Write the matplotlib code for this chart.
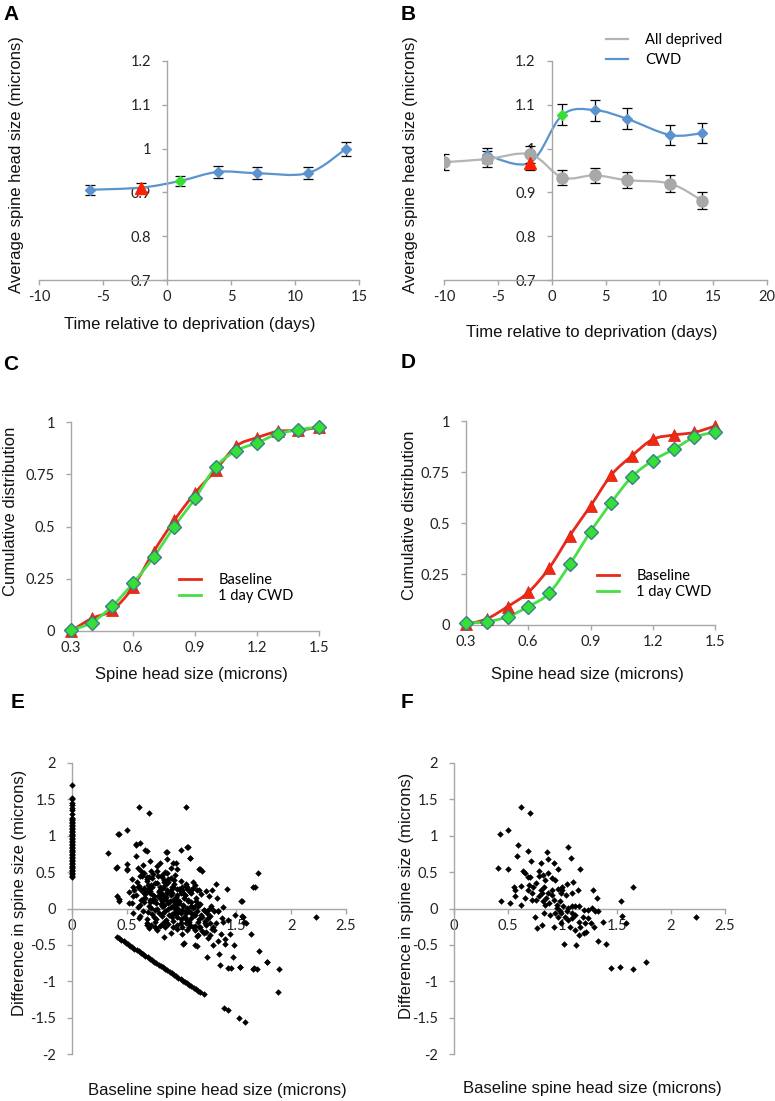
import matplotlib.pyplot as plt
import numpy as np
from matplotlib.path import Path
from matplotlib.patches import PathPatch
from matplotlib.lines import Line2D

plt.rcParams['font.family'] = ['Lato', 'DejaVu Sans']
plt.rcParams['axes.unicode_minus'] = False

# ---- panel A: CWD spines over time
a_days = [-6, -2, 1, 4, 7, 11, 14]
a_size = [0.906, 0.911, 0.926, 0.947, 0.944, 0.944, 1.0]
a_err = [0.011, 0.010, 0.012, 0.013, 0.013, 0.013, 0.016]

# ---- panel B
b_all_days = [-10, -6, -2, 1, 4, 7, 11, 14]
b_all_size = [0.969, 0.976, 0.987, 0.934, 0.939, 0.928, 0.920, 0.881]
b_all_err = [0.019, 0.018, 0.019, 0.017, 0.017, 0.019, 0.020, 0.020]
b_cwd_days = [-6, -2, 1, 4, 7, 11, 14]
b_cwd_size = [0.985, 0.968, 1.077, 1.088, 1.068, 1.031, 1.035]
b_cwd_err = [0.017, 0.017, 0.024, 0.024, 0.024, 0.023, 0.023]

# ---- panels C, D: cumulative distributions
bins = [0.3, 0.4, 0.5, 0.6, 0.7, 0.8, 0.9, 1.0, 1.1, 1.2, 1.3, 1.4, 1.5]
c_base = [0.0, 0.06, 0.10, 0.21, 0.38, 0.53, 0.66, 0.77, 0.885, 0.925, 0.955, 0.96, 0.975]
c_cwd = [0.005, 0.04, 0.12, 0.228, 0.354, 0.50, 0.634, 0.785, 0.863, 0.90, 0.943, 0.963, 0.976]
d_base = [0.003, 0.03, 0.09, 0.16, 0.278, 0.438, 0.583, 0.735, 0.83, 0.91, 0.931, 0.944, 0.975]
d_cwd = [0.008, 0.016, 0.04, 0.09, 0.155, 0.297, 0.457, 0.60, 0.727, 0.806, 0.861, 0.92, 0.946]

# ---- panel F: CWD spines (baseline size, change)
f_x = [0.615, 0.704, 0.42, 0.50, 0.587, 0.683, 0.584, 0.861, 1.05, 1.076, 0.406, 0.498, 0.713, 0.80,
       0.864, 0.92, 1.16, 0.956, 0.633, 0.655, 0.68, 0.70, 0.78, 0.82, 0.84, 0.90, 0.93, 0.556, 0.566,
       0.615, 0.69, 0.76, 0.80, 0.83, 0.87, 0.90, 0.96, 0.99, 1.00, 1.03, 1.10, 1.14, 1.28, 1.32, 1.65,
       1.54, 0.43, 0.52, 0.62, 0.56, 0.655, 0.716, 0.76, 0.785, 0.82, 0.85, 0.88, 0.92, 0.95, 0.98,
       1.01, 1.05, 1.09, 1.12, 1.15, 1.20, 1.24, 1.27, 1.30, 1.33, 0.75, 0.83, 0.885, 0.93, 0.96, 0.99,
       1.02, 1.05, 1.09, 1.12, 1.15, 1.19, 1.21, 1.24, 0.766, 0.81, 0.92, 0.99, 1.07, 1.12, 1.15, 1.20,
       1.22, 1.29, 1.378, 1.33, 1.40, 1.015, 1.125, 1.55, 1.59, 2.23, 1.45, 1.53, 1.65, 1.775, 0.81,
       0.90, 0.84, 0.95, 0.98, 1.04, 1.085, 1.16, 1.26, 0.716, 0.686, 0.73, 0.785, 0.864, 1.0, 1.04,
       1.085]
f_y = [1.40, 1.31, 1.02, 1.08, 0.87, 0.79, 0.72, 0.775, 0.84, 0.70, 0.56, 0.54, 0.65, 0.62,
       0.68, 0.63, 0.54, 0.54, 0.52, 0.49, 0.43, 0.43, 0.51, 0.46, 0.395, 0.42, 0.39, 0.30, 0.26,
       0.31, 0.32, 0.35, 0.26, 0.30, 0.21, 0.26, 0.27, 0.21, 0.26, 0.19, 0.36, 0.26, 0.26, 0.14, 0.29,
       0.10, 0.10, 0.07, 0.05, 0.165, 0.14, 0.21, 0.12, 0.165, 0.10, 0.14, 0.07, 0.12, 0.05, 0.10,
       0.03, 0.005, 0.04, 0.03, 0.03, -0.02, -0.02, 0.005, -0.04, -0.04, -0.11, -0.06, -0.09, -0.06, -0.11, -0.06,
       -0.11, -0.16, -0.13, -0.09, -0.18, -0.11, -0.20, -0.13, -0.27, -0.22, -0.25, -0.20, -0.25, -0.29, -0.36, -0.34,
       -0.32, -0.25, -0.18, -0.44, -0.49, -0.49, -0.50, -0.10, -0.20, -0.11, -0.82, -0.80, -0.83, -0.73, 0.21,
       0.19, 0.05, 0.005, -0.04, -0.04, -0.06, -0.25, -0.20, 0.12, 0.26, 0.30, 0.44, 0.49, 0.30, 0.33,
       0.21]

# ---- panel E: the other deprived spines (plus the CWD ones above)
e_x = [1.04, 0.43, 0.325, 0.58, 0.62, 0.67, 0.87, 0.99, 1.06, 1.08, 0.41, 0.50, 0.50, 1.17, 1.19,
       1.31, 1.41, 1.70, 1.67, 1.55, 0.41, 0.43, 1.49, 1.56, 1.57, 1.63, 1.445, 1.48, 1.47, 1.42, 1.35,
       1.535, 1.66, 1.69, 1.71, 1.78, 1.89, 1.88, 1.34, 1.29, 1.23, 1.14, 1.02, 0.84, 0.76, 0.68, 0.56,
       0.61, 1.26,
       0.55, 0.59, 0.64, 0.68, 0.73, 0.78, 0.84, 0.88, 0.93, 0.99, 1.05, 1.12,
       0.52, 0.58, 0.63, 0.67, 0.71, 0.75, 0.79, 0.83, 0.87, 0.91, 0.95, 0.99, 1.03, 1.08, 1.13, 1.18, 1.25,
       0.55, 0.60, 0.66, 0.70, 0.74, 0.78, 0.81, 0.86, 0.90, 0.94, 0.97, 1.01, 1.06, 1.10, 1.15, 1.20,
       1.27, 1.33, 1.38,
       0.62, 0.68, 0.73, 0.77, 0.82, 0.86, 0.91, 0.95, 0.99, 1.03, 1.07, 1.11, 1.16, 1.21, 1.26, 1.31,
       1.37, 1.42,
       0.70, 0.78, 0.85, 0.90, 0.96, 1.00, 1.05, 1.10, 1.14, 1.19, 1.24, 1.30, 1.36, 1.40,
       0.60, 0.66, 0.72, 0.80, 0.86, 0.92, 0.98, 1.04, 1.10, 1.16, 1.22,
       0.60, 0.65, 0.72, 0.78, 0.85, 0.90, 0.95,
       0.63, 0.67, 0.71, 0.74, 0.77, 0.80, 0.83, 0.86, 0.89, 0.92, 0.95, 0.98, 1.02, 1.06, 1.09, 1.13, 1.17,
       0.65, 0.69, 0.72, 0.76, 0.79, 0.82, 0.85, 0.88, 0.91, 0.94, 0.97, 1.00, 1.04, 1.07, 1.11, 1.14,
       1.18, 1.23,
       0.68, 0.72, 0.76, 0.80, 0.84, 0.88, 0.92, 0.96, 1.00, 1.04, 1.08, 1.12, 1.17, 1.22, 1.28,
       0.66, 0.70, 0.74, 0.79, 0.83, 0.87, 0.91, 0.96, 1.00, 1.05, 1.09,
       0.62, 0.68, 0.74, 0.82, 0.88, 0.94]
e_y = [1.40, 1.03, 0.76, 0.885, 0.90, 0.80, 0.78, 0.80, 0.85, 0.69, 0.57, 0.615, 0.53, 0.54, 0.52,
       0.34, 0.27, 0.49, 0.29, 0.105, 0.165, 0.13, -0.09, -0.11, -0.18, -0.35, -0.35, -0.50, -0.66, -0.82, -0.78,
       -0.80, -0.82, -0.83, -0.59, -0.73, -0.83, -1.15, -0.62, -0.50, -0.66, -0.52, -0.48, -0.385, -0.25, -0.225, -0.065,
       -0.13, -0.36,
       0.40, 0.36, 0.44, 0.38, 0.42, 0.35, 0.37, 0.41, 0.33, 0.38, 0.30, 0.32,
       0.22, 0.18, 0.25, 0.20, 0.24, 0.17, 0.23, 0.19, 0.26, 0.21, 0.16, 0.24, 0.18, 0.22, 0.15, 0.20, 0.17,
       0.07, 0.02, 0.09, 0.04, 0.10, 0.0, 0.06, 0.11, 0.02, 0.08, -0.01, 0.05, 0.10, 0.01, 0.06, -0.02,
       0.04, -0.03, 0.02,
       -0.10, -0.15, -0.08, -0.14, -0.10, -0.16, -0.12, -0.07, -0.15, -0.11, -0.18, -0.09, -0.14, -0.17, -0.10, -0.20,
       -0.13, -0.16,
       -0.27, -0.30, -0.25, -0.33, -0.28, -0.35, -0.30, -0.26, -0.38, -0.31, -0.40, -0.29, -0.35, -0.42,
       0.30, 0.28, 0.32, 0.29, 0.33, 0.30, 0.27, 0.31, 0.28, 0.26, 0.24,
       0.55, 0.60, 0.52, 0.58, 0.50, 0.56, 0.62,
       0.12, 0.15, 0.09, 0.13, 0.08, 0.14, 0.03, 0.16, 0.10, 0.04, 0.13, 0.07, 0.15, 0.12, 0.09, 0.10, 0.06,
       -0.03, -0.05, 0.01, -0.02, -0.06, 0.03, -0.04, -0.01, -0.07, 0.0, -0.05, -0.02, -0.06, -0.03, -0.07, -0.04,
       -0.09, -0.06,
       -0.20, -0.22, -0.18, -0.24, -0.19, -0.21, -0.17, -0.23, -0.25, -0.20, -0.22, -0.24, -0.26, -0.23, -0.28,
       0.21, 0.27, 0.19, 0.24, 0.28, 0.23, 0.30, 0.19, 0.23, 0.27, 0.25,
       0.45, 0.40, 0.47, 0.43, 0.36, 0.46]

# new spines (baseline size 0)
new_y = [0.43, 0.45, 0.47, 0.49, 0.51, 0.53, 0.55, 0.57, 0.59, 0.61, 0.63, 0.65, 0.67, 0.69, 0.71,
         0.73, 0.75, 0.77, 0.79, 0.81, 0.83, 0.85, 0.87, 0.89, 0.91, 0.93, 0.95, 0.97, 0.99, 1.01,
         1.03, 1.05, 1.07, 1.09, 1.11, 1.13, 1.15, 1.17, 1.19, 1.21, 1.23, 1.25, 1.30, 1.35, 1.38,
         1.42, 1.45, 1.50, 1.52, 1.70]
# lost spines (change = minus baseline)
lost_x = [0.41, 0.43, 0.45, 0.47, 0.49, 0.51, 0.53, 0.55, 0.57, 0.59, 0.61, 0.63, 0.65, 0.67, 0.69,
          0.71, 0.73, 0.75, 0.77, 0.79, 0.81, 0.83, 0.85, 0.87, 0.89, 0.91, 0.93, 0.95, 0.97, 0.99,
          1.01, 1.03, 1.05, 1.07, 1.09, 1.11, 1.13, 1.15, 1.17, 1.20, 1.39, 1.42, 1.52, 1.58]
lost_y = [-0.39, -0.41, -0.43, -0.45, -0.47, -0.49, -0.51, -0.53, -0.55, -0.57, -0.59, -0.61, -0.63, -0.65, -0.67,
          -0.69, -0.71, -0.73, -0.75, -0.77, -0.79, -0.81, -0.83, -0.85, -0.87, -0.89, -0.91, -0.93, -0.95, -0.97,
          -0.99, -1.01, -1.03, -1.05, -1.07, -1.09, -1.11, -1.13, -1.15, -1.18, -1.37, -1.39, -1.51, -1.555]

BLUE = '#5B93CF'
GRAY = '#B4B4B4'
RED = '#FF2200'
GREEN = '#33E033'
AXC = '#A8A8A8'
LABEL_FONT = 'Liberation Sans'


def smooth(ax, x, y, color, lw, z=2):
    # Excel-style smoothed line through the points
    p = np.column_stack([x, y]).astype(float)
    n = len(p)
    verts = [p[0]]
    codes = [Path.MOVETO]
    for i in range(n - 1):
        p0 = p[max(i - 1, 0)]
        p3 = p[min(i + 2, n - 1)]
        verts += [p[i] + (p[i + 1] - p0) / 6, p[i + 1] - (p3 - p[i]) / 6, p[i + 1]]
        codes += [Path.CURVE4] * 3
    ax.add_patch(PathPatch(Path(verts, codes), fc='none', ec=color, lw=lw, zorder=z,
                           capstyle='round', joinstyle='round'))


def style(ax, xspine=None, yspine=None):
    for s in ['top', 'right']:
        ax.spines[s].set_visible(False)
    for s in ['left', 'bottom']:
        ax.spines[s].set_color(AXC)
        ax.spines[s].set_linewidth(1.0)
    if yspine is not None:
        ax.spines['left'].set_position(('data', yspine))
    if xspine is not None:
        ax.spines['bottom'].set_position(('data', xspine))
    ax.tick_params(colors=AXC, labelcolor='#222222', labelsize=10.5, length=3.5, width=1, direction='out')
    ax.tick_params(axis='y', pad=8)
    ax.tick_params(axis='x', pad=4)
    ax.patch.set_alpha(0)


fig = plt.figure(figsize=(7.75, 11.01), dpi=100)
W, H = 775.0, 1101.0


def px_axes(x0, x1, ytop, ybot):
    return fig.add_axes([x0 / W, 1 - ybot / H, (x1 - x0) / W, (ybot - ytop) / H])


def fmt(v):
    return ('%g' % v)


# ---------------- A
ax = px_axes(39, 359, 61, 280)
smooth(ax, a_days, a_size, BLUE, 1.6)
ax.errorbar(a_days, a_size, yerr=a_err, fmt='none', ecolor='black', elinewidth=0.9, capsize=3.5, capthick=0.9, zorder=3)
ax.plot([a_days[i] for i in [0, 3, 4, 5, 6]], [a_size[i] for i in [0, 3, 4, 5, 6]], 'D', color=BLUE, ms=5.5, zorder=4)
ax.plot(a_days[1], a_size[1], '^', color=RED, ms=8, zorder=4)
ax.plot(a_days[2], a_size[2], 'D', color=GREEN, ms=5.5, zorder=4)
ax.set_xlim(-10, 15)
ax.set_ylim(0.7, 1.2)
ax.set_xticks([-10, -5, 0, 5, 10, 15])
ax.set_yticks([0.7, 0.8, 0.9, 1.0, 1.1, 1.2])
ax.set_yticklabels([fmt(v) for v in [0.7, 0.8, 0.9, 1.0, 1.1, 1.2]])
style(ax, yspine=0)

# ---------------- B
ax = px_axes(444, 767, 61, 280)
smooth(ax, b_cwd_days, b_cwd_size, BLUE, 1.6)
smooth(ax, b_all_days, b_all_size, GRAY, 1.6)
ax.errorbar(b_cwd_days, b_cwd_size, yerr=b_cwd_err, fmt='none', ecolor='black', elinewidth=0.9, capsize=3.5, capthick=0.9, zorder=3)
ax.errorbar(b_all_days, b_all_size, yerr=b_all_err, fmt='none', ecolor='black', elinewidth=0.9, capsize=3.5, capthick=0.9, zorder=3)
ax.plot([b_cwd_days[i] for i in [0, 3, 4, 5, 6]], [b_cwd_size[i] for i in [0, 3, 4, 5, 6]], 'D', color=BLUE, ms=5.5, zorder=4)
ax.plot(b_all_days, b_all_size, 'o', color='#A8A8A8', ms=8, zorder=5)
ax.plot(b_cwd_days[1], b_cwd_size[1], '^', color=RED, ms=8, zorder=6)
ax.plot(b_cwd_days[2], b_cwd_size[2], 'D', color=GREEN, ms=5.5, zorder=6)
ax.set_xlim(-10, 20)
ax.set_ylim(0.7, 1.2)
ax.set_xticks([-10, -5, 0, 5, 10, 15, 20])
ax.set_yticks([0.7, 0.8, 0.9, 1.0, 1.1, 1.2])
ax.set_yticklabels([fmt(v) for v in [0.7, 0.8, 0.9, 1.0, 1.1, 1.2]])
style(ax, yspine=0)
ax.legend([Line2D([], [], color=GRAY, lw=1.6), Line2D([], [], color=BLUE, lw=1.6)],
          ['All deprived', 'CWD'], loc='upper left', bbox_to_anchor=(606 / W, 1 - 33 / H),
          bbox_transform=fig.transFigure, frameon=False, fontsize=10.5, handlelength=1.5,
          handletextpad=1.2, labelspacing=0.4, borderpad=0, borderaxespad=0)


# ---------------- C, D
def cumulative(box, base, cwd, legend_xy):
    ax = px_axes(*box)
    smooth(ax, bins, base, '#E8291C', 2.0)
    smooth(ax, bins, cwd, '#45E045', 2.0)
    ax.plot(bins, base, '^', color='#F02A10', ms=9, mec='#D02010', mew=0.5, zorder=4)
    ax.plot(bins, cwd, 'D', color='#33E033', ms=7, mec='#3A7F8A', mew=1.0, zorder=5)
    ax.set_xlim(0.3, 1.5)
    ax.set_ylim(0, 1)
    ax.set_xticks([0.3, 0.6, 0.9, 1.2, 1.5])
    ax.set_yticks([0, 0.25, 0.5, 0.75, 1])
    ax.set_yticklabels(['0', '0.25', '0.5', '0.75', '1'])
    style(ax)
    for a in ax.get_children():
        if isinstance(a, Line2D):
            a.set_clip_on(False)
    ax.legend([Line2D([], [], color='#E8291C', lw=2), Line2D([], [], color='#45E045', lw=2)],
              ['Baseline', '1 day CWD'], loc='upper left', bbox_to_anchor=legend_xy,
              bbox_transform=fig.transFigure, frameon=False, fontsize=10.5, handlelength=1.5,
              handletextpad=1.2, labelspacing=0.15, borderpad=0, borderaxespad=0)
    return ax


cumulative((71, 319, 422, 631), c_base, c_cwd, (179 / W, 1 - 573 / H))
cumulative((466, 715, 421, 625), d_base, d_cwd, (597 / W, 1 - 569 / H))


# ---------------- E, F
def scatter_panel(box, xs, ys):
    ax = px_axes(*box)
    ax.scatter(xs, ys, marker='D', s=11, color='black', lw=0, zorder=3, clip_on=False)
    ax.set_xlim(0, 2.5)
    ax.set_ylim(-2, 2)
    ax.set_xticks([0, 0.5, 1, 1.5, 2, 2.5])
    ax.set_xticklabels(['0', '0.5', '1', '1.5', '2', '2.5'])
    ax.set_yticks([-2, -1.5, -1, -0.5, 0, 0.5, 1, 1.5, 2])
    ax.set_yticklabels([fmt(v) for v in [-2, -1.5, -1, -0.5, 0, 0.5, 1, 1.5, 2]])
    style(ax, xspine=0)
    return ax


scatter_panel((72, 346, 763, 1054),
              f_x + e_x + [0.0] * len(new_y) + lost_x,
              f_y + e_y + new_y + lost_y)
scatter_panel((454, 725, 763, 1054), f_x, f_y)

# ---------------- axis titles and panel letters
lab = dict(fontsize=12, family=LABEL_FONT, color='#111111', ha='center', va='center')
for x, y in [(190, 325), (592, 332)]:
    fig.text(x / W, 1 - y / H, 'Time relative to deprivation (days)', **lab)
for x, y in [(17, 165), (410, 165)]:
    fig.text(x / W, 1 - y / H, 'Average spine head size (microns)', rotation=90, **lab)
for x, y in [(11, 511), (409, 515)]:
    fig.text(x / W, 1 - y / H, 'Cumulative distribution', rotation=90, **lab)
for x, y in [(191, 675), (587, 675)]:
    fig.text(x / W, 1 - y / H, 'Spine head size (microns)', **lab)
for x, y in [(20, 893), (407, 896)]:
    fig.text(x / W, 1 - y / H, 'Difference in spine size (microns)', rotation=90, **lab)
for x, y in [(217, 1090), (592, 1088)]:
    fig.text(x / W, 1 - y / H, 'Baseline spine head size (microns)', **lab)

for letter, x, y in [('A', 3, 14), ('B', 401, 14), ('C', 3, 364), ('D', 401, 363), ('E', 11, 703), ('F', 401, 703)]:
    fig.text(x / W, 1 - y / H, letter, fontsize=15, fontweight='bold', family=LABEL_FONT,
             ha='left', va='center', color='black')

fig.savefig('out.png', dpi=100)
